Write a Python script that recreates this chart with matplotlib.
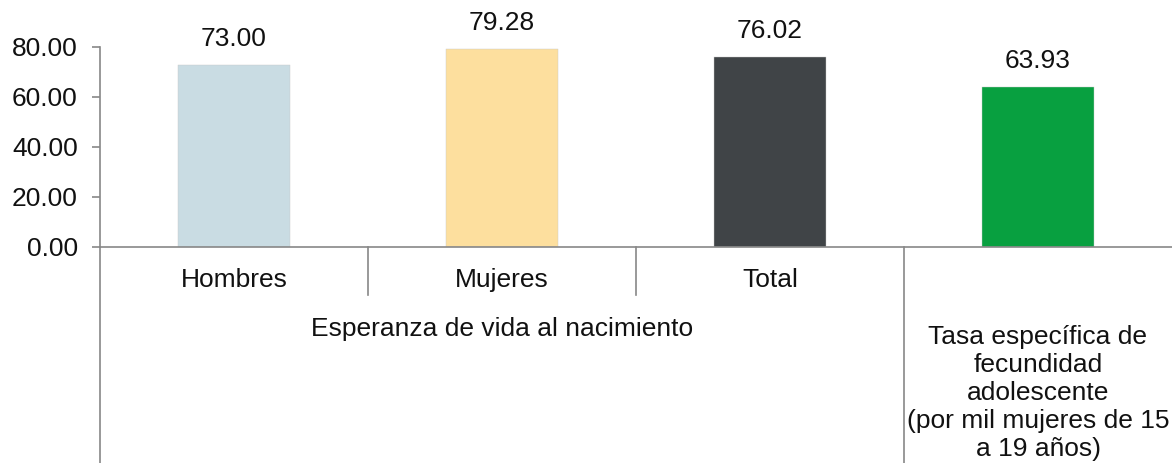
import matplotlib.pyplot as plt
import matplotlib.transforms as mtransforms

plt.rcParams['font.family'] = ['Liberation Sans', 'DejaVu Sans']

# datos
categorias = ["Hombres", "Mujeres", "Total", ""]
valores = [73.00, 79.28, 76.02, 63.93]
colores = ["#C9DCE3", "#FDDF9E", "#404447", "#08A040"]
grupos = ["Esperanza de vida al nacimiento",
          "Tasa específica de\nfecundidad\nadolescente\n(por mil mujeres de 15\na 19 años)"]
yticks = [0, 20, 40, 60, 80]

fs = 19
fig = plt.figure(figsize=(11.72, 4.63), dpi=100)
ax = fig.add_axes([100 / 1172, (463 - 247) / 463, 1072 / 1172, 200 / 463])

x = range(len(valores))
ax.bar(x, valores, width=0.42, color=colores, edgecolor="#C8C8C8", linewidth=0.3, zorder=2)
for xi, v in zip(x, valores):
    ax.annotate(f"{v:.2f}", (xi, v), xytext=(0, 10), textcoords="offset points",
                ha="center", va="bottom", fontsize=fs, color="#111111")

ax.set_xlim(-0.5, 3.5)
ax.set_ylim(0, 80)
ax.set_yticks(yticks)
ax.set_yticklabels([f"{t:.2f}" for t in yticks], fontsize=fs, color="#111111")
ax.tick_params(axis="y", length=6, width=1.2, color="#888888", pad=10)
ax.set_xticks([])

for s in ["top", "right"]:
    ax.spines[s].set_visible(False)
for s in ["left", "bottom"]:
    ax.spines[s].set_color("#888888")
    ax.spines[s].set_linewidth(1.2)

# lineas de la tabla de categorias
tr = mtransforms.blended_transform_factory(ax.transData, ax.transAxes)
lc = "#888888"
ax.plot([-0.5, -0.5], [0, -1.08], transform=tr, color=lc, lw=1.2, clip_on=False)
ax.plot([0.5, 0.5], [0, -0.24], transform=tr, color=lc, lw=1.2, clip_on=False)
ax.plot([1.5, 1.5], [0, -0.24], transform=tr, color=lc, lw=1.2, clip_on=False)
ax.plot([2.5, 2.5], [0, -1.08], transform=tr, color=lc, lw=1.2, clip_on=False)

for xi, c in zip(x, categorias):
    ax.text(xi, -0.165, c, transform=tr, ha="center", va="center", fontsize=fs, color="#111111")
ax.text(1, -0.41, grupos[0], transform=tr, ha="center", va="center", fontsize=fs, color="#111111")
ax.text(3, -0.73, grupos[1], transform=tr, ha="center", va="center", fontsize=fs,
        color="#111111", linespacing=1.22)

fig.savefig("out.png", dpi=100)
